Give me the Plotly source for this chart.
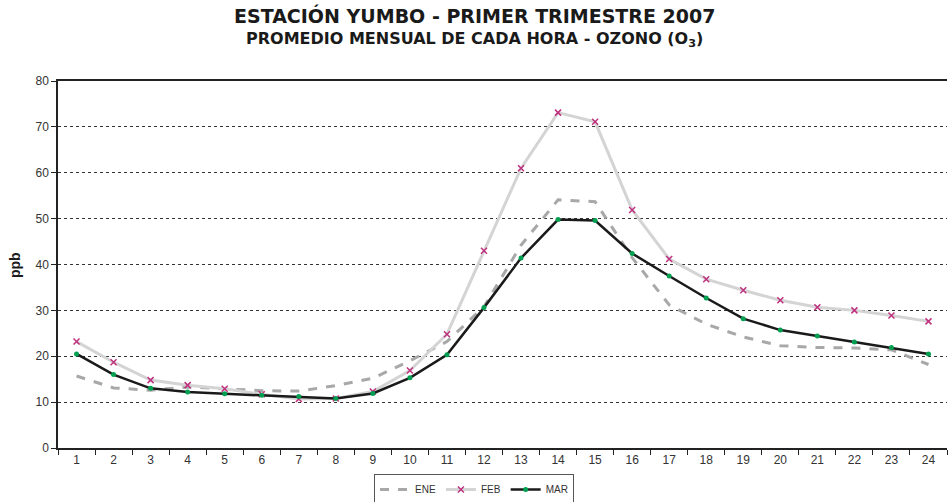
import plotly.graph_objects as go

hours = [str(h) for h in range(1, 25)]
ene = [15.7, 13.1, 12.6, 13.3, 12.9, 12.5, 12.4, 13.6, 15.2, 19.0, 23.2, 30.8,
       44.2, 54.1, 53.7, 41.5, 31.2, 27.0, 24.2, 22.3, 21.9, 21.8, 21.4, 18.2]
feb = [23.2, 18.7, 14.8, 13.7, 12.9, 11.7, 10.7, 10.8, 12.3, 16.9, 24.8, 43.0,
       61.0, 73.1, 71.1, 51.9, 41.2, 36.8, 34.4, 32.2, 30.7, 30.0, 28.9, 27.6]
mar = [20.5, 16.0, 13.0, 12.2, 11.8, 11.5, 11.2, 10.8, 11.9, 15.3, 20.3, 30.6,
       41.4, 49.8, 49.6, 42.4, 37.5, 32.7, 28.2, 25.7, 24.4, 23.1, 21.9, 20.5]
y_ticks = [0, 10, 20, 30, 40, 50, 60, 70, 80]

W, H = 948, 502
L, R, T, B = 58, 1, 81, 54
ph = H - T - B
pw = W - L - R

fig = go.Figure()
fig.add_trace(go.Scatter(x=hours, y=ene, name="ENE", mode="lines",
                         line=dict(color="#A8A8A8", width=3, dash="dash")))
fig.add_trace(go.Scatter(x=hours, y=feb, name="FEB", mode="lines+markers",
                         line=dict(color="#D4D4D4", width=3),
                         marker=dict(symbol="x-thin", size=6, color="#C0307F",
                                     line=dict(color="#C0307F", width=1.5))))
fig.add_trace(go.Scatter(x=hours, y=mar, name="MAR", mode="lines+markers",
                         line=dict(color="#1A1A1A", width=2.5),
                         marker=dict(symbol="circle", size=5, color="#00A050")))

tfont = "DejaVu Sans, Liberation Sans, Arial, sans-serif"
xc = (W / 2 - L) / pw
fig.add_annotation(text="<b>ESTACIÓN YUMBO - PRIMER TRIMESTRE 2007</b>",
                   xref="paper", yref="paper", x=xc,
                   y=1 + (T - 16) / ph, xanchor="center", yanchor="middle",
                   showarrow=False, font=dict(family=tfont, size=19, color="#1A1A1A"))
fig.add_annotation(text="<b>PROMEDIO MENSUAL DE CADA HORA - OZONO (O<sub>3</sub>)</b>",
                   xref="paper", yref="paper", x=xc,
                   y=1 + (T - 39) / ph, xanchor="center", yanchor="middle",
                   showarrow=False, font=dict(family=tfont, size=16, color="#1A1A1A"))
fig.add_annotation(text="<b>ppb</b>", textangle=-90,
                   xref="paper", yref="paper", x=(15 - L) / pw, y=(448 - 265) / ph,
                   xanchor="center", yanchor="middle", showarrow=False,
                   font=dict(family="Liberation Sans, Arial, sans-serif", size=14, color="#1A1A1A"))

fig.update_layout(
    width=W, height=H,
    margin=dict(l=L, r=R, t=T, b=B),
    paper_bgcolor="white", plot_bgcolor="white",
    font=dict(family="Liberation Sans, Arial, sans-serif", size=12, color="#333333"),
    showlegend=True,
    legend=dict(orientation="h", x=0.5, xanchor="center", xref="container",
                y=1 - 474 / H, yanchor="top", yref="container",
                bordercolor="#555555", borderwidth=1, bgcolor="white",
                font=dict(size=10, color="#333333"),
                itemwidth=30, tracegroupgap=0),
    xaxis=dict(type="category", tickson="boundaries", ticks="outside", ticklen=5,
               range=[-0.5, 23.5], automargin=False,
               tickcolor="#222222", showline=True, linecolor="#222222", linewidth=1.5,
               mirror=True, showgrid=False, tickfont=dict(size=12, color="#333333")),
    yaxis=dict(range=[0, 80], tickvals=y_ticks, ticks="outside", ticklen=5, automargin=False,
               tickcolor="#222222", showline=True, linecolor="#222222", linewidth=1.5,
               showgrid=True, gridcolor="#333333", griddash="dot", gridwidth=1,
               zeroline=False, tickfont=dict(size=12, color="#333333")),
)

fig.write_html("out.html", config={"displayModeBar": False},
               post_script="document.body.style.margin='0';document.body.style.overflow='hidden';")
